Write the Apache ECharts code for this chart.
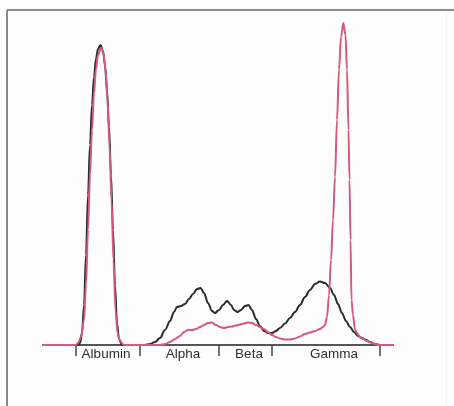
<!DOCTYPE html>
<html>
<head>
<meta charset="utf-8">
<script src="https://cdn.jsdelivr.net/npm/echarts@6/dist/echarts.min.js"></script>
<style>
  html, body { margin: 0; padding: 0; background: #fdfdfd; }
  #main { width: 454px; height: 406px; }
</style>
</head>
<body>
<div id="main"></div>
<script>
// mobility position (x) and height of the trace
var normalX = [43, 78, 80, 82, 84, 86, 88, 90, 92, 94, 96, 98, 100.5, 103, 105, 107, 109, 111, 113, 115, 117, 119, 122,
  145, 150, 155, 160, 165, 170, 174, 177, 181, 185, 189, 193, 197, 200.5, 204, 208, 212, 215, 219, 223, 227, 231, 234, 237.5,
  241, 245, 248.5, 252, 256, 260, 264, 268, 272, 276, 280, 285, 290, 295, 300, 305, 310, 315, 320, 325, 330, 334, 338, 342,
  346, 350, 354, 358, 362, 366, 370, 375, 380, 393];
var normalY = [0, 0, 2, 12, 40, 90, 150, 200, 240, 268, 286, 296, 300, 294, 280, 255, 218, 170, 115, 60, 22, 6, 0,
  0, 1, 3, 7, 15, 24, 33, 38, 39, 41, 46, 51, 56, 57, 52, 42, 34, 32, 35, 40, 44, 40, 35, 33,
  35, 39, 40, 35, 26, 19, 14, 12, 12, 14, 17, 21.5, 27, 33, 40, 48, 55, 61, 63.5, 62, 57, 50, 41, 32,
  24, 18, 13, 9, 7, 5, 3, 1, 0, 0];

var patientX = [43, 76, 78, 81, 84, 86, 88, 90, 92, 94, 96, 98, 101, 103.5, 105.5, 107.5, 109.5, 111.5, 113.5, 115.5, 117.5, 120, 124,
  160, 165, 170, 175, 180, 184, 188, 192, 196, 200, 204, 208, 212, 216, 220, 224, 228, 232, 236, 240, 244, 248, 252, 256,
  260, 264, 268, 272, 276, 280, 285, 290, 295, 300, 305, 310, 315, 320, 323, 325, 327, 329, 331, 333, 335, 337, 339, 341,
  343.3, 345.5, 347, 348.5, 349.5, 350.5, 351.5, 353, 355, 357, 360, 363, 367, 372, 378, 393];
var patientY = [0, 0, 2, 8, 25, 60, 115, 170, 215, 252, 276, 290, 297, 292, 275, 245, 200, 145, 85, 35, 12, 4, 0,
  0, 1, 3, 6, 9, 13, 15, 15, 16, 18, 20, 22, 22.5, 20, 18, 17, 18, 18.5, 19.5, 20.5, 21.5, 22.5, 22, 20,
  18, 16, 13, 10, 8, 6.5, 5.5, 5.5, 6.5, 8.5, 11, 12.5, 14, 16, 18, 20, 28, 50, 85, 125, 168, 225, 275, 308,
  322, 310, 275, 215, 165, 105, 45, 30, 15, 12, 8, 6, 4, 2, 0, 0];

// fraction boundaries and label centres
var tickPos = [76, 140, 218.5, 272, 380];
var labelPos = [106, 183, 249, 334];
var labelNames = ['Albumin', 'Alpha', 'Beta', 'Gamma'];

function pairs(xs, ys) {
  var out = [];
  for (var i = 0; i < xs.length; i++) out.push([xs[i], ys[i]]);
  return out;
}

var chart = echarts.init(document.getElementById('main'));
chart.setOption({
  animation: false,
  backgroundColor: '#fdfdfd',
  grid: { left: 43, right: 61, top: 20, bottom: 61 },
  xAxis: {
    type: 'value',
    min: 43,
    max: 393,
    splitLine: { show: false },
    axisLine: { show: true, lineStyle: { color: '#555', width: 2 } },
    axisTick: { show: true, customValues: tickPos, length: 11, lineStyle: { color: '#444', width: 1.5 } },
    axisLabel: {
      customValues: labelPos,
      margin: 2,
      fontFamily: 'Liberation Sans',
      fontSize: 13.5,
      color: '#2e2e2e',
      formatter: function (v) {
        var i = labelPos.indexOf(v);
        return i >= 0 ? labelNames[i] : '';
      }
    }
  },
  yAxis: {
    type: 'value',
    min: 0,
    max: 325,
    show: false
  },
  series: [
    {
      name: 'Normal',
      type: 'line',
      data: pairs(normalX, normalY),
      smooth: 0.35,
      smoothMonotone: 'x',
      showSymbol: false,
      lineStyle: { color: '#2b2b2b', width: 2 }
    },
    {
      name: 'Patient',
      type: 'line',
      data: pairs(patientX, patientY),
      smooth: 0.35,
      smoothMonotone: 'x',
      showSymbol: false,
      lineStyle: { color: '#d65a7c', width: 2 }
    }
  ],
  graphic: [
    { type: 'line', shape: { x1: 7, y1: 10, x2: 454, y2: 10 }, style: { stroke: '#8a8a8a', lineWidth: 2 } },
    { type: 'line', shape: { x1: 7, y1: 10, x2: 7, y2: 406 }, style: { stroke: '#8a8a8a', lineWidth: 2 } },
    { type: 'line', shape: { x1: 446.5, y1: 11, x2: 446.5, y2: 406 }, style: { stroke: '#f3f3f3', lineWidth: 1 } }
  ]
});
</script>
</body>
</html>
